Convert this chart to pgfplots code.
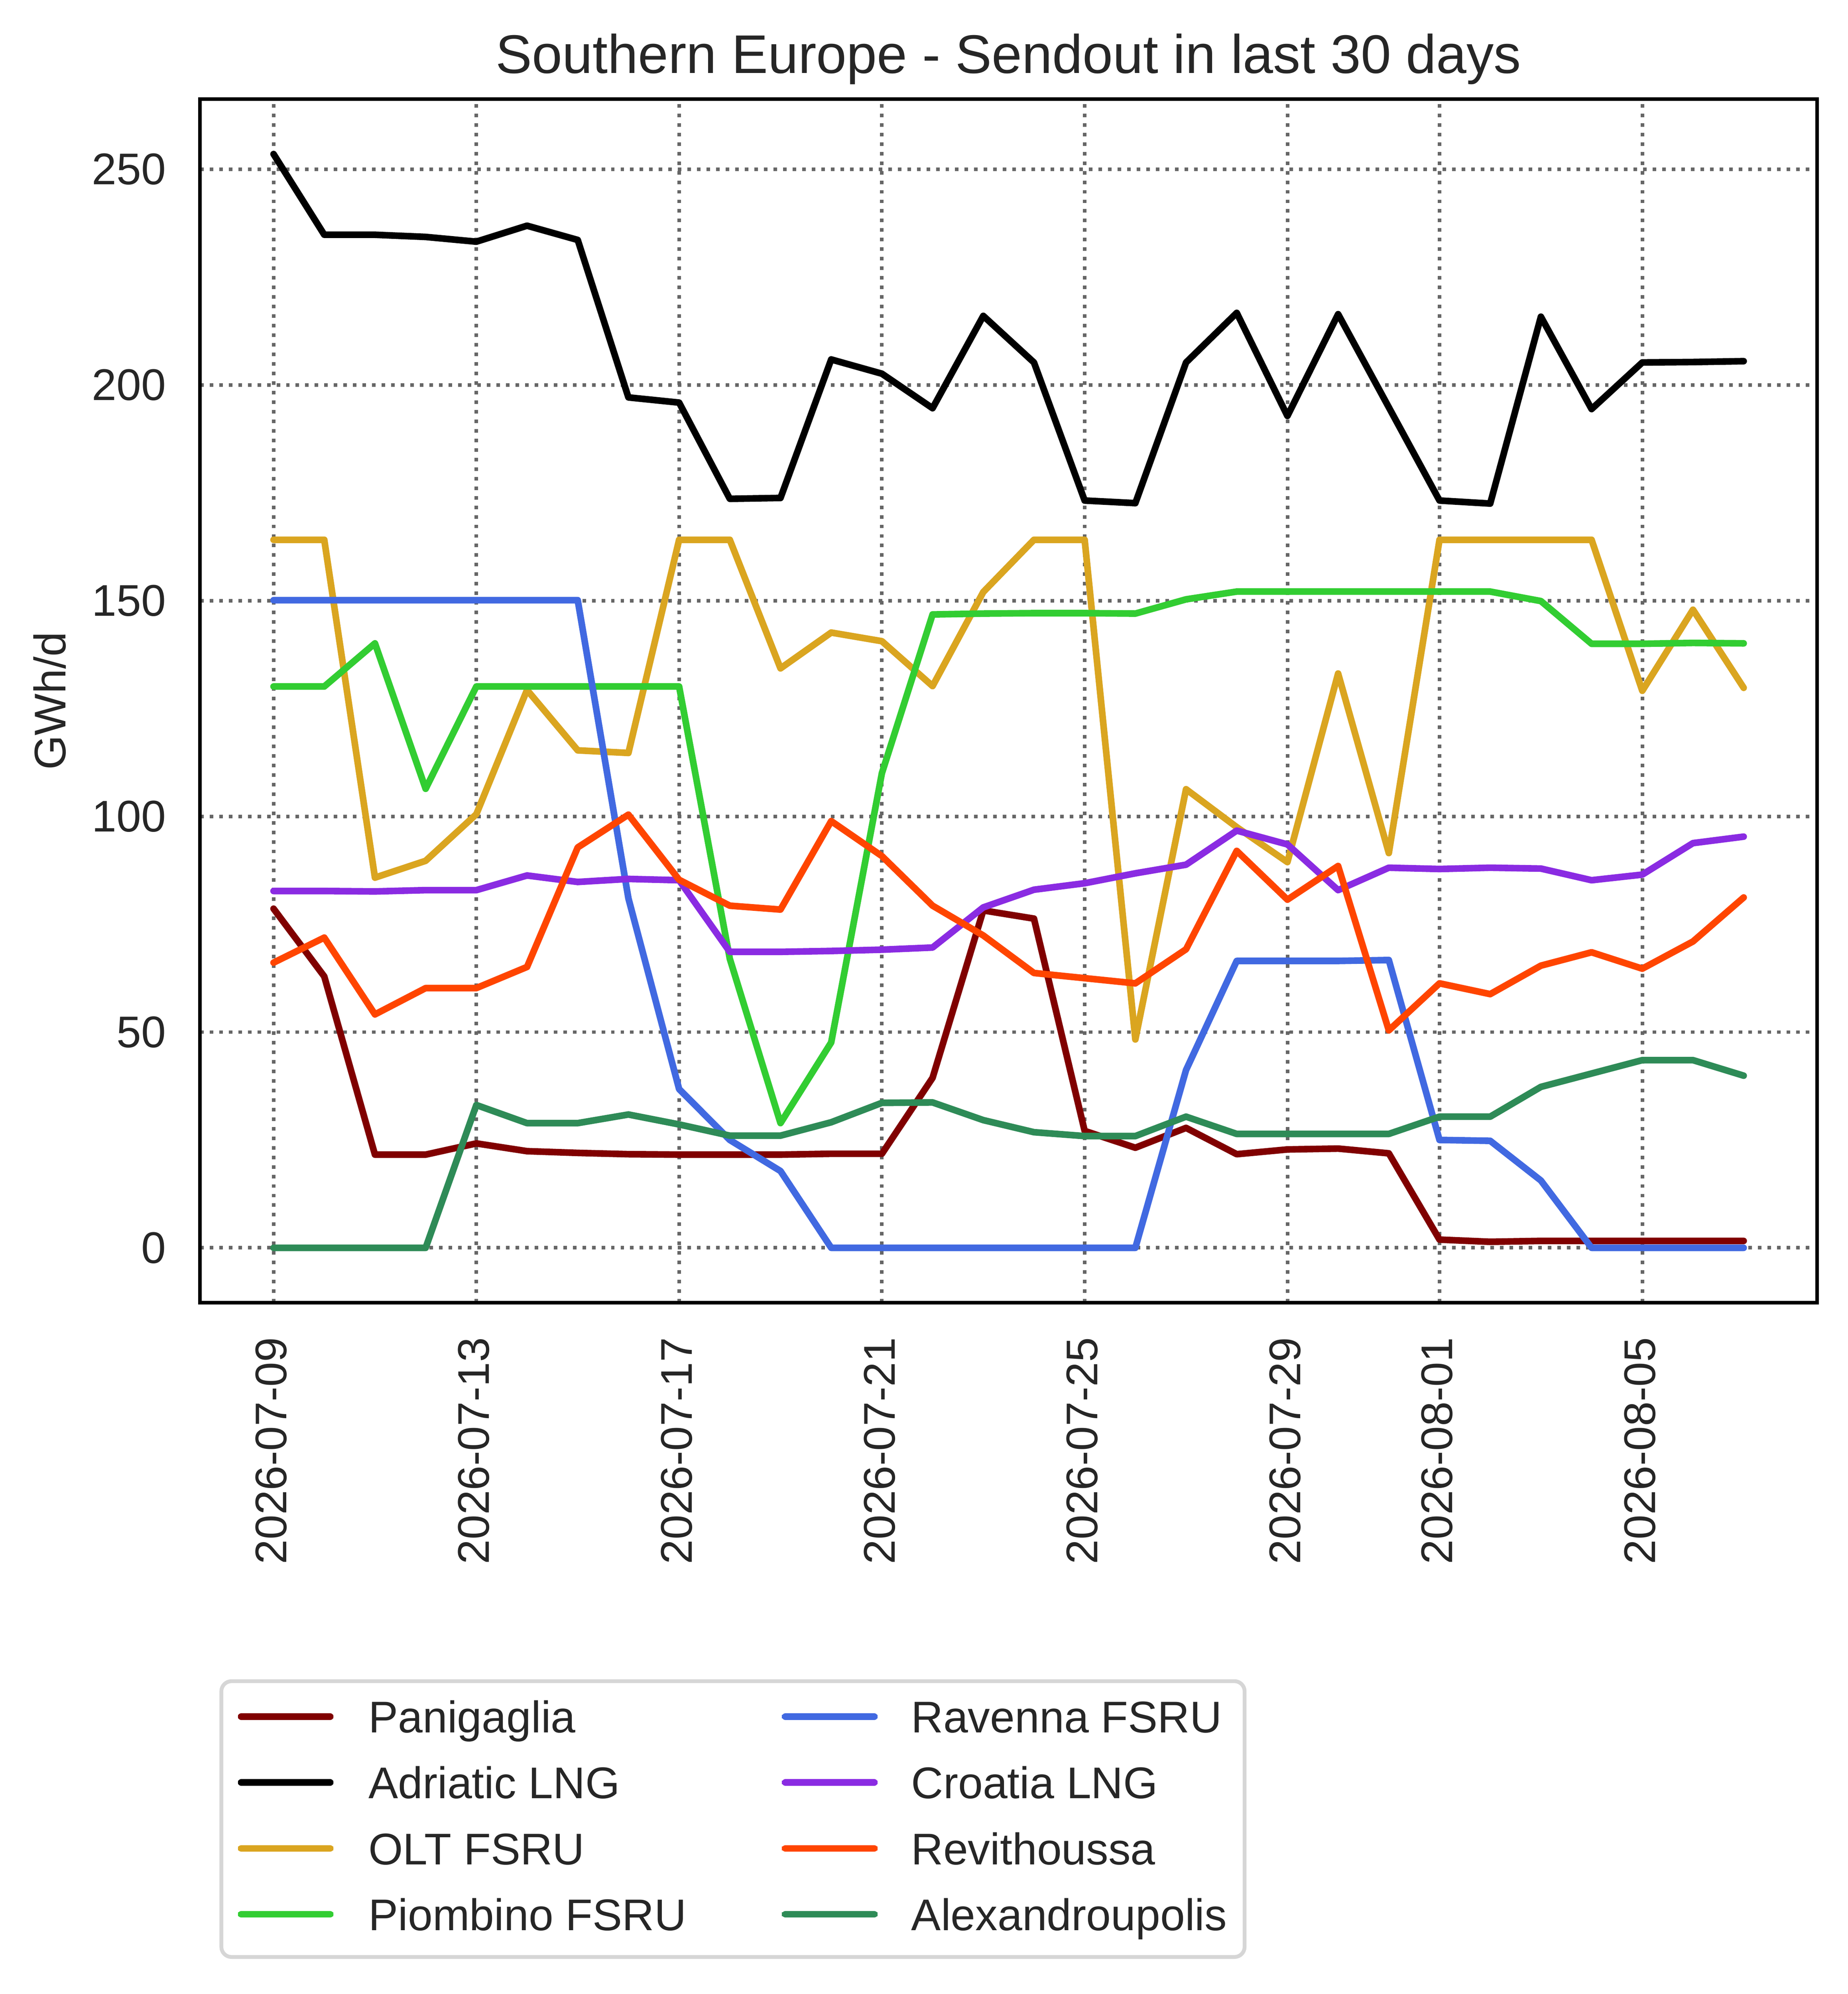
\documentclass[border=0pt]{standalone}
\usepackage{fontspec}
\setmainfont{Liberation Sans}
\usepackage{pgfplots}
\pgfplotsset{compat=1.18}
\definecolor{txt}{HTML}{262626}
\definecolor{gridc}{HTML}{666666}
\definecolor{legframe}{HTML}{D6D6D6}
\definecolor{cPan}{HTML}{800000}
\definecolor{cAdr}{HTML}{000000}
\definecolor{cOLT}{HTML}{DAA520}
\definecolor{cPio}{HTML}{32CD32}
\definecolor{cRav}{HTML}{4169E1}
\definecolor{cCro}{HTML}{8A2BE2}
\definecolor{cRev}{HTML}{FF4500}
\definecolor{cAle}{HTML}{2E8B57}
\newcommand{\tickfont}{\fontsize{17.4}{20}\selectfont}
\tikzset{dl/.style={line width=2.6pt, line join=round, line cap=round}}
\newcommand{\lA}[1]{\hspace*{13.0pt}\makebox[161.5pt][l]{#1}}
\newcommand{\lB}[1]{\hspace*{12.5pt}\makebox[125pt][l]{#1}}
\begin{document}
\begin{tikzpicture}
\useasboundingbox (-78.5pt,-271.25pt) rectangle (646.5pt,510.95pt);
\begin{axis}[
  at={(0pt,0pt)}, anchor=south west, scale only axis,
  width=634.5pt, height=472pt,
  xmin=-1.45, xmax=30.45, ymin=-12.68, ymax=266.2,
  xtick={0,4,8,12,16,20,23,27},
  xticklabels={2026-07-09,2026-07-13,2026-07-17,2026-07-21,2026-07-25,2026-07-29,2026-08-01,2026-08-05},
  ytick={0,50,100,150,200,250},
  major tick length=0pt,
  grid=major,
  major grid style={gridc, line width=1.4pt, dash pattern=on 1.4pt off 2.35pt},
  axis line style={black, line width=1.4pt},
  tick label style={font=\tickfont, text=txt},
  /pgf/number format/assume math mode=true,
  yticklabel style={inner sep=0pt, xshift=-13.2pt},
  xticklabel style={yshift=-13.5pt, rotate=90, anchor=east, inner sep=0pt, text depth=0.21em},
  title={Southern Europe - Sendout in last 30 days},
  title style={font=\fontsize{21.35}{25}\selectfont, text=txt, at={(axis description cs:0.5,1)}, anchor=base, yshift=4.3pt},
  ylabel={GWh/d},
  ylabel style={font=\tickfont, text=txt, at={(axis description cs:-0.0831,0.5)}, anchor=base},
  legend columns=2,
  legend image code/.code={\draw[#1, line width=2.6pt, line cap=round] (1.3pt,6.3pt) -- (36.2pt,6.3pt); \path (0pt,6.3pt) -- (37.5pt,6.3pt);},
  legend style={at={(axis description cs:0.01198,-0.3131)}, anchor=north west,
    draw=legframe, line width=1.5pt, rounded corners=4pt, fill=white,
    inner xsep=5.75pt, inner ysep=7.7pt, font=\tickfont, text=txt,
    cells={anchor=base west},
    nodes={inner sep=0pt, text height=12.5pt, text depth=2.75pt},
    row sep=10.6pt, column sep=0pt},
]
\addlegendimage{color=cPan}
\addlegendimage{color=cRav}
\addlegendimage{color=cAdr}
\addlegendimage{color=cCro}
\addlegendimage{color=cOLT}
\addlegendimage{color=cRev}
\addlegendimage{color=cPio}
\addlegendimage{color=cAle}
\legend{{\lA{Panigaglia}},{\lB{Ravenna FSRU}},{\lA{Adriatic LNG}},{\lB{Croatia LNG}},{\lA{OLT FSRU}},{\lB{Revithoussa}},{\lA{Piombino FSRU}},{\lB{Alexandroupolis}}}
% Panigaglia
\addplot[dl, color=cPan, forget plot] coordinates {(0,78.6)(1,62.9)(2,21.6)(3,21.6)(4,24.2)(5,22.4)(6,22.0)(7,21.7)(8,21.6)(9,21.6)(10,21.6)(11,21.8)(12,21.8)(13,39.4)(14,78.2)(15,76.3)(16,27.1)(17,23.2)(18,27.8)(19,21.7)(20,22.8)(21,23.0)(22,21.9)(23,1.9)(24,1.4)(25,1.6)(26,1.6)(27,1.6)(28,1.6)(29,1.6)};
% Adriatic LNG
\addplot[dl, color=cAdr, forget plot] coordinates {(0,253.5)(1,234.8)(2,234.8)(3,234.3)(4,233.2)(5,236.9)(6,233.6)(7,197.1)(8,195.9)(9,173.6)(10,173.8)(11,205.9)(12,202.6)(13,194.6)(14,216.0)(15,205.2)(16,173.2)(17,172.6)(18,205.2)(19,216.7)(20,192.8)(21,216.4)(22,194.8)(23,173.2)(24,172.5)(25,215.8)(26,194.4)(27,205.2)(28,205.3)(29,205.5)};
% OLT FSRU
\addplot[dl, color=cOLT, forget plot] coordinates {(0,164.1)(1,164.1)(2,85.8)(3,89.7)(4,100.5)(5,129.3)(6,115.3)(7,114.7)(8,164.1)(9,164.1)(10,134.3)(11,142.6)(12,140.6)(13,130.2)(14,152.0)(15,164.1)(16,164.1)(17,48.3)(18,106.3)(19,97.5)(20,89.4)(21,133.1)(22,91.5)(23,164.1)(24,164.1)(25,164.1)(26,164.1)(27,129.1)(28,147.9)(29,129.8)};
% Piombino FSRU
\addplot[dl, color=cPio, forget plot] coordinates {(0,130.1)(1,130.1)(2,140.1)(3,106.4)(4,130.1)(5,130.1)(6,130.1)(7,130.1)(8,130.1)(9,67.0)(10,28.9)(11,47.6)(12,110.0)(13,146.8)(14,147.0)(15,147.1)(16,147.1)(17,147.0)(18,150.3)(19,152.1)(20,152.1)(21,152.1)(22,152.1)(23,152.1)(24,152.1)(25,149.9)(26,140.0)(27,140.0)(28,140.2)(29,140.1)};
% Ravenna FSRU
\addplot[dl, color=cRav, forget plot] coordinates {(0,150.1)(1,150.1)(2,150.1)(3,150.1)(4,150.1)(5,150.1)(6,150.1)(7,81.0)(8,36.8)(9,25.0)(10,17.8)(11,0)(12,0)(13,0)(14,0)(15,0)(16,0)(17,0)(18,41.2)(19,66.5)(20,66.5)(21,66.5)(22,66.7)(23,25.0)(24,24.8)(25,15.6)(26,0)(27,0)(28,0)(29,0)};
% Croatia LNG
\addplot[dl, color=cCro, forget plot] coordinates {(0,82.7)(1,82.7)(2,82.6)(3,82.9)(4,82.9)(5,86.3)(6,84.8)(7,85.5)(8,85.2)(9,68.6)(10,68.6)(11,68.8)(12,69.1)(13,69.6)(14,78.9)(15,83.0)(16,84.5)(17,86.8)(18,88.8)(19,96.7)(20,93.5)(21,82.9)(22,88.1)(23,87.8)(24,88.1)(25,87.9)(26,85.2)(27,86.5)(28,93.8)(29,95.3)};
% Revithoussa
\addplot[dl, color=cRev, forget plot] coordinates {(0,66.1)(1,71.9)(2,54.1)(3,60.2)(4,60.2)(5,65.1)(6,92.8)(7,100.4)(8,85.3)(9,79.3)(10,78.4)(11,98.9)(12,90.8)(13,79.3)(14,72.4)(15,63.7)(16,62.5)(17,61.3)(18,69.2)(19,92.0)(20,80.7)(21,88.5)(22,50.4)(23,61.3)(24,58.8)(25,65.4)(26,68.5)(27,64.7)(28,71.0)(29,81.2)};
% Alexandroupolis
\addplot[dl, color=cAle, forget plot] coordinates {(0,0)(1,0)(2,0)(3,0)(4,33.1)(5,28.9)(6,28.9)(7,30.9)(8,28.6)(9,26.0)(10,26.0)(11,29.1)(12,33.6)(13,33.7)(14,29.6)(15,26.8)(16,25.9)(17,25.9)(18,30.4)(19,26.4)(20,26.4)(21,26.4)(22,26.4)(23,30.4)(24,30.4)(25,37.3)(26,40.4)(27,43.5)(28,43.5)(29,39.9)};
\end{axis}
\end{tikzpicture}
\end{document}
